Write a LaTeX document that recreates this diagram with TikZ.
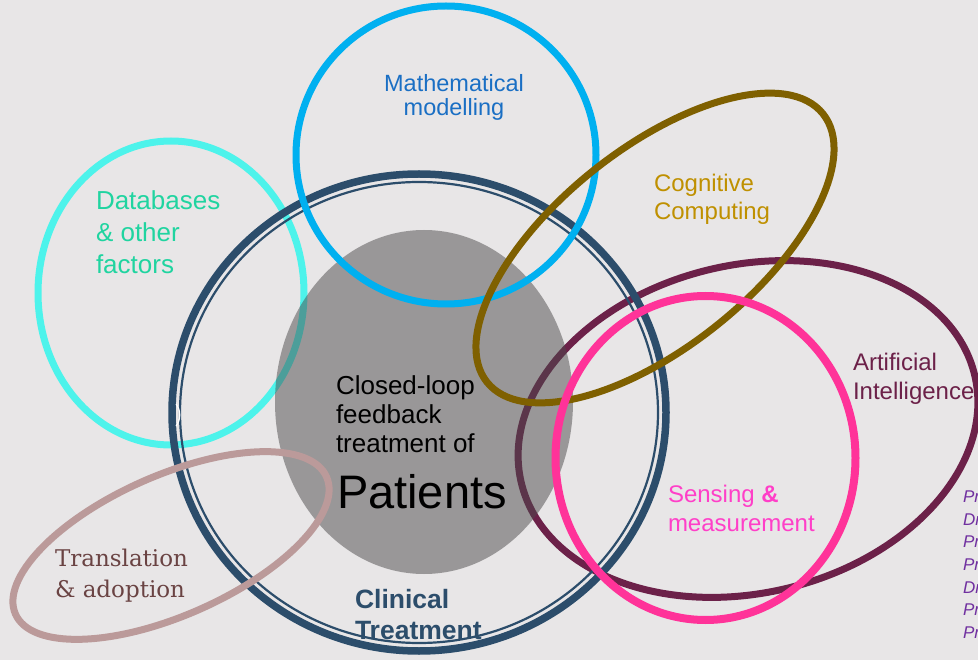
\documentclass[tikz,border=0pt]{standalone}
\usepackage{fontspec}
\setmainfont{Liberation Sans}
\newfontfamily\slabfont{DejaVu Serif}
\definecolor{bgc}{HTML}{E8E6E7}
\definecolor{bigblue}{HTML}{2C4D6B}
\definecolor{cyanc}{HTML}{00B0F0}
\definecolor{turq}{HTML}{4DF3EB}
\definecolor{brownc}{HTML}{7F6000}
\definecolor{maroonc}{HTML}{6C2149}
\definecolor{pinkc}{HTML}{FF3399}
\definecolor{rosec}{HTML}{BB9A9A}
\definecolor{grayc}{HTML}{4C4A4B}
\definecolor{mathtxt}{HTML}{1A6FC4}
\definecolor{dbtxt}{HTML}{20D4A0}
\definecolor{cogtxt}{HTML}{BF9000}
\definecolor{senstxt}{HTML}{FF3FC8}
\definecolor{transtxt}{HTML}{6A4343}
\definecolor{purpc}{HTML}{7030A0}
\begin{document}
\begin{tikzpicture}[x=1pt,y=-1pt,
  lbl/.style={anchor=base west, inner sep=0pt, outer sep=0pt},
  ring/.style={line width=7pt}]
\useasboundingbox (0,0) rectangle (978,660);
\fill[bgc] (0,0) rectangle (978,660);

% Databases circle
\draw[ring, turq] (171,293) ellipse [x radius=133pt, y radius=152pt];
% Artificial Intelligence ellipse
\draw[ring, maroonc, rotate around={13.3:(748,429)}] (748,429) ellipse [x radius=233pt, y radius=164pt];
% Patients ellipse
\fill[grayc, opacity=0.5] (424,402) ellipse [x radius=149pt, y radius=172pt];
% Clinical treatment ring
\draw[bigblue, line width=7.5pt] (419,412.5) ellipse [x radius=247pt, y radius=238.5pt];
\draw[bigblue, line width=2.2pt] (419,412.5) ellipse [x radius=239pt, y radius=230.5pt];
\draw[white, line width=1.2pt] (176,404) .. controls (181,410) and (181,420) .. (176,426);
% Mathematical modelling
\draw[ring, cyanc] (446,155) ellipse [x radius=150pt, y radius=149pt];
% Cognitive computing
\draw[ring, brownc, rotate around={38.6:(655,248)}] (655,248) ellipse [x radius=215pt, y radius=99pt];
% Sensing
\draw[line width=8pt, pinkc] (705.5,458) ellipse [x radius=150pt, y radius=162pt];
% Translation
\draw[ring, rosec, rotate around={23.8:(171,545.5)}] (171,545.5) ellipse [x radius=170pt, y radius=70pt];

% Labels
\begin{scope}[every node/.style={lbl}]
\node[text=mathtxt, anchor=base, font=\fontsize{23.5}{26}\selectfont] (m1) at (454,92) {Mathematical};
\node[text=mathtxt, anchor=base, font=\fontsize{23.5}{26}\selectfont] (m2) at (454,116) {modelling};

\node[text=dbtxt, font=\fontsize{26}{29}\selectfont] (d1) at (96,210) {Databases};
\node[text=dbtxt, font=\fontsize{26}{29}\selectfont] (d2) at (96,242) {\& other};
\node[text=dbtxt, font=\fontsize{26}{29}\selectfont] (d3) at (96,274) {factors};

\node[text=cogtxt, font=\fontsize{24}{27}\selectfont] (c1) at (654,192) {Cognitive};
\node[text=cogtxt, font=\fontsize{24}{27}\selectfont] (c2) at (654,220) {Computing};

\node[text=maroonc, font=\fontsize{24}{27}\selectfont] (a1) at (853,371) {Artificial};
\node[text=maroonc, font=\fontsize{24}{27}\selectfont] (a2) at (853,400) {Intelligence};

\node[text=senstxt, font=\fontsize{24}{27}\selectfont] (s1) at (668,502) {Sensing \textbf{\&}};
\node[text=senstxt, font=\fontsize{24}{27}\selectfont] (s2) at (668,531) {measurement};

\node[text=black, font=\fontsize{26}{29}\selectfont] (p1) at (336,395) {Closed-loop};
\node[text=black, font=\fontsize{26}{29}\selectfont] (p2) at (336,424) {feedback};
\node[text=black, font=\fontsize{26}{29}\selectfont] (p3) at (336,453) {treatment of};
\node[text=black, font=\fontsize{47}{50}\selectfont] (p4) at (337,508) {Patients};

\node[text=bigblue, font=\fontsize{26.5}{29}\selectfont\bfseries] (t1) at (355,608) {Clinical};
\node[text=bigblue, font=\fontsize{26.5}{29}\selectfont\bfseries] (t2) at (355,639) {Treatment};

\node[text=transtxt, font=\slabfont\fontsize{23}{26}\selectfont] (r1) at (55,566) {Translation};
\node[text=transtxt, font=\slabfont\fontsize{23}{26}\selectfont] (r2) at (55,597) {\& adoption};

\node[text=purpc, font=\fontsize{17}{19}\selectfont\itshape] (q1) at (963,502) {Pr};
\node[text=purpc, font=\fontsize{17}{19}\selectfont\itshape] (q2) at (963,525) {Dr};
\node[text=purpc, font=\fontsize{17}{19}\selectfont\itshape] (q3) at (963,547) {Pr};
\node[text=purpc, font=\fontsize{17}{19}\selectfont\itshape] (q4) at (963,570) {Pr};
\node[text=purpc, font=\fontsize{17}{19}\selectfont\itshape] (q5) at (963,593) {Dr};
\node[text=purpc, font=\fontsize{17}{19}\selectfont\itshape] (q6) at (963,615) {Pr};
\node[text=purpc, font=\fontsize{17}{19}\selectfont\itshape] (q7) at (963,638) {Pr};
\end{scope}
\end{tikzpicture}
\end{document}
